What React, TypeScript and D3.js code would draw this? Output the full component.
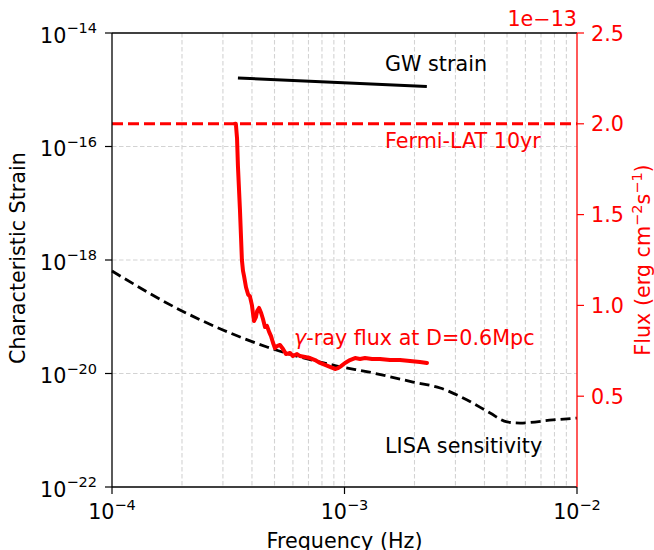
import React from "react";
import * as d3 from "d3";

// LISA sensitivity curve (characteristic strain)
const lisaFreq = [1.0e-4, 1.96e-4, 3.0e-4, 4.64e-4, 8.93e-4, 1.33e-3, 1.97e-3, 2.58e-3, 3.37e-3, 4.23e-3, 5.0e-3, 5.69e-3, 7.88e-3, 1.0e-2];
const lisaStrain = [6.4e-19, 1.32e-19, 5.85e-20, 2.93e-20, 1.41e-20, 1.02e-20, 7.08e-21, 5.55e-21, 3.41e-21, 2.01e-21, 1.4e-21, 1.34e-21, 1.52e-21, 1.64e-21];

// GW strain of the source
const gwFreq = [3.48e-4, 2.26e-3];
const gwStrain = [1.61e-15, 1.14e-15];

// gamma-ray flux, units of 1e-13 erg cm^-2 s^-1
const gammaFreq = [
  3.38e-4, 3.41e-4, 3.45e-4, 3.48e-4, 3.55e-4, 3.59e-4, 3.62e-4, 3.66e-4, 3.7e-4, 3.77e-4,
  3.85e-4, 3.92e-4, 4.0e-4, 4.08e-4, 4.16e-4, 4.21e-4, 4.29e-4, 4.38e-4, 4.46e-4, 4.55e-4,
  4.64e-4, 4.74e-4, 4.83e-4, 4.93e-4, 5.02e-4, 5.13e-4, 5.28e-4, 5.44e-4, 5.6e-4, 5.83e-4,
  6.0e-4, 6.25e-4, 6.44e-4, 6.76e-4, 7.11e-4, 7.47e-4, 7.85e-4, 8.25e-4, 8.66e-4, 9.1e-4,
  9.38e-4, 9.66e-4, 1.005e-3, 1.056e-3, 1.11e-3, 1.166e-3, 1.225e-3, 1.313e-3, 1.421e-3, 1.569e-3,
  1.733e-3, 1.913e-3, 2.112e-3, 2.263e-3,
];
const gammaFlux = [
  2.0, 2.0, 1.92, 1.77, 1.53, 1.37, 1.25, 1.19, 1.16, 1.1,
  1.06, 1.05, 1.0, 0.914, 0.936, 0.969, 0.986, 0.958, 0.925, 0.881,
  0.887, 0.854, 0.831, 0.793, 0.765, 0.776, 0.782, 0.76, 0.732, 0.738,
  0.721, 0.732, 0.721, 0.716, 0.71, 0.699, 0.683, 0.672, 0.661, 0.65,
  0.655, 0.666, 0.683, 0.699, 0.71, 0.705, 0.71, 0.705, 0.705, 0.699,
  0.699, 0.694, 0.688, 0.683,
];

// Fermi-LAT 10yr sensitivity (1e-13 units)
const fermiFlux = 2.0;

const strainTicks = [-22, -20, -18, -16, -14];
const freqTicks = [-4, -3, -2];
const fluxTicks = [0.5, 1.0, 1.5, 2.0, 2.5];

const W = 654;
const H = 550;
const left = 112, right = 577, top = 33, bottom = 487;
const font = "DejaVu Sans, sans-serif";
const fs = 20.7;
const fsSup = 14.5;

export default function App() {
  const x = d3.scaleLog().domain([1e-4, 1e-2]).range([left, right]);
  const y = d3.scaleLog().domain([1e-22, 1e-14]).range([bottom, top]);
  const y2 = d3.scaleLinear().domain([0, 2.5]).range([bottom, top]);

  const strainLine = d3.line<number>()
    .x((_, i) => x(lisaFreq[i]))
    .y((d) => y(d))
    .curve(d3.curveMonotoneX);
  const gwLine = d3.line<number>().x((_, i) => x(gwFreq[i])).y((d) => y(d));
  const gammaLine = d3.line<number>().x((_, i) => x(gammaFreq[i])).y((d) => y2(d));

  const minor: number[] = [];
  for (let e = -4; e < -2; e++) {
    for (let m = 2; m <= 9; m++) minor.push(m * Math.pow(10, e));
  }
  minor.push(1e-3);

  return (
    <svg width={W} height={H} style={{ position: "absolute", left: 0, top: 0, background: "#fff" }}
      fontFamily={font}>
      {/* grid */}
      <g stroke="#d3d3d3" strokeWidth={1.1} strokeDasharray="4.5,2.5">
        {minor.map((f) => (
          <line key={f} x1={x(f)} x2={x(f)} y1={top} y2={bottom} />
        ))}
        {strainTicks.slice(1, -1).map((e) => (
          <line key={e} x1={left} x2={right} y1={y(Math.pow(10, e))} y2={y(Math.pow(10, e))} />
        ))}
      </g>

      {/* left axis curves */}
      <path d={strainLine(lisaStrain) || ""} fill="none" stroke="#000" strokeWidth={2.8} strokeDasharray="10,5" />
      <path d={gwLine(gwStrain) || ""} fill="none" stroke="#000" strokeWidth={3} />

      {/* right axis curves */}
      <line x1={x(1e-4)} x2={x(1e-2)} y1={y2(fermiFlux)} y2={y2(fermiFlux)} stroke="red" strokeWidth={3} strokeDasharray="11,5" />
      <path d={gammaLine(gammaFlux) || ""} fill="none" stroke="red" strokeWidth={4} strokeLinejoin="round" strokeLinecap="round" />

      {/* annotations */}
      <text x={385} y={71} fontSize={fs} fill="#000">GW strain</text>
      <text x={385} y={148} fontSize={fs} fill="red">Fermi-LAT 10yr</text>
      <text x={294} y={345} fontSize={fs} fill="red">
        <tspan fontStyle="italic">γ</tspan>-ray flux at D=0.6Mpc
      </text>
      <text x={385} y={453} fontSize={fs} fill="#000">LISA sensitivity</text>

      {/* spines */}
      <g fill="none" strokeWidth={1.3}>
        <line x1={left} x2={left} y1={top} y2={bottom} stroke="#000" />
        <line x1={left} x2={right} y1={bottom} y2={bottom} stroke="#000" />
        <line x1={left} x2={right} y1={top} y2={top} stroke="#000" />
        <line x1={right} x2={right} y1={top} y2={bottom} stroke="red" />
      </g>

      {/* left ticks */}
      {strainTicks.map((e) => {
        const yy = y(Math.pow(10, e));
        return (
          <g key={e}>
            <line x1={left - 7} x2={left} y1={yy} y2={yy} stroke="#000" strokeWidth={1.2} />
            <text x={97} y={yy + 9.5} textAnchor="end" fontSize={fs} fill="#000">
              10<tspan dy={-9.5} fontSize={fsSup}>{"\u2212" + Math.abs(e)}</tspan>
            </text>
          </g>
        );
      })}

      {/* bottom ticks */}
      {freqTicks.map((e) => {
        const xx = x(Math.pow(10, e));
        return (
          <g key={e}>
            <line x1={xx} x2={xx} y1={bottom} y2={bottom + 7} stroke="#000" strokeWidth={1.2} />
            <text x={xx} y={519} textAnchor="middle" fontSize={fs} fill="#000">
              10<tspan dy={-9} fontSize={fsSup}>{"\u2212" + Math.abs(e)}</tspan>
            </text>
          </g>
        );
      })}

      {/* right ticks */}
      {fluxTicks.map((v) => {
        const yy = y2(v);
        return (
          <g key={v}>
            <line x1={right} x2={right + 7} y1={yy} y2={yy} stroke="red" strokeWidth={1.2} />
            <text x={591} y={yy + 7.5} fontSize={fs} fill="red">{v.toFixed(1)}</text>
          </g>
        );
      })}
      <text x={right} y={26} textAnchor="end" fontSize={fs} fill="red">1e−13</text>

      {/* axis titles */}
      <text x={(left + right) / 2} y={548} textAnchor="middle" fontSize={fs} fill="#000">Frequency (Hz)</text>
      <text transform={`translate(25,${(top + bottom) / 2 - 2}) rotate(-90)`} textAnchor="middle" fontSize={fs} fill="#000">
        Characteristic Strain
      </text>
      <text transform={`translate(650,${(top + bottom) / 2}) rotate(-90)`} textAnchor="middle" fontSize={fs} fill="red">
        Flux (erg cm<tspan dy={-8} fontSize={fsSup}>−2</tspan><tspan dy={8}>s</tspan>
        <tspan dy={-8} fontSize={fsSup}>−1</tspan><tspan dy={8}>)</tspan>
      </text>
    </svg>
  );
}
